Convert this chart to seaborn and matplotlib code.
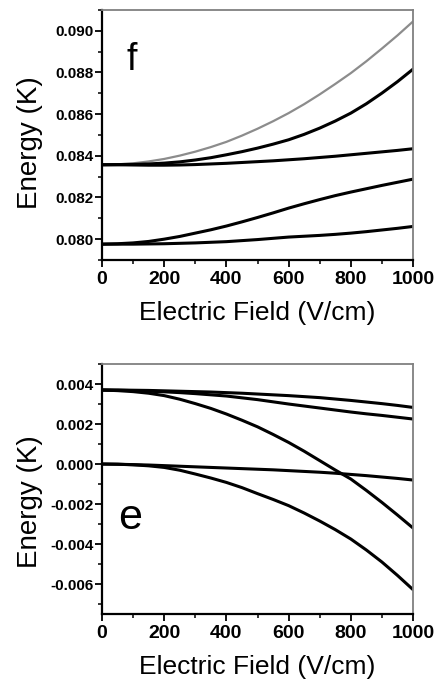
import numpy as np
import pandas as pd
import seaborn as sns
import matplotlib.pyplot as plt
from matplotlib.ticker import MultipleLocator, FormatStrFormatter

# field values (V/cm)
field = [0, 50, 100, 150, 200, 250, 300, 350, 400, 450, 500,
         550, 600, 650, 700, 750, 800, 850, 900, 950, 1000]

# panel f energies (K)
f_grey = [0.08357, 0.08359, 0.08364, 0.08373, 0.08385, 0.08401, 0.08420, 0.08442, 0.08467, 0.08497, 0.08530,
          0.08566, 0.08605, 0.08648, 0.08695, 0.08745, 0.08797, 0.08854, 0.08915, 0.08978, 0.09045]
f_up = [0.08357, 0.08358, 0.08359, 0.08361, 0.08365, 0.08371, 0.08380, 0.08391, 0.08405, 0.08420, 0.08437,
        0.08456, 0.08477, 0.08503, 0.08533, 0.08567, 0.08605, 0.08650, 0.08701, 0.08756, 0.08816]
f_mid = [0.08357, 0.08357, 0.08356, 0.08355, 0.08355, 0.08356, 0.08358, 0.08361, 0.08364, 0.08368, 0.08372,
         0.08376, 0.08381, 0.08386, 0.08392, 0.08398, 0.08405, 0.08412, 0.08419, 0.08426, 0.08434]
f_low1 = [0.07976, 0.07978, 0.07982, 0.07989, 0.08000, 0.08013, 0.08029, 0.08045, 0.08063, 0.08083, 0.08104,
          0.08126, 0.08149, 0.08170, 0.08190, 0.08209, 0.08226, 0.08242, 0.08258, 0.08273, 0.08288]
f_low2 = [0.07976, 0.07976, 0.07976, 0.07977, 0.07978, 0.07980, 0.07982, 0.07985, 0.07988, 0.07993, 0.07998,
          0.08004, 0.08010, 0.08014, 0.08018, 0.08023, 0.08029, 0.08036, 0.08044, 0.08052, 0.08061]

# panel e energies (K)
e_a = [0.00370, 0.00370, 0.00369, 0.00368, 0.00366, 0.00364, 0.00362, 0.00360, 0.00357, 0.00354, 0.00350,
       0.00346, 0.00342, 0.00337, 0.00332, 0.00325, 0.00318, 0.00310, 0.00302, 0.00293, 0.00283]
e_b = [0.00370, 0.00369, 0.00367, 0.00364, 0.00361, 0.00357, 0.00352, 0.00346, 0.00340, 0.00331, 0.00322,
       0.00311, 0.00300, 0.00290, 0.00280, 0.00270, 0.00260, 0.00251, 0.00243, 0.00234, 0.00225]
e_c = [0.00370, 0.00367, 0.00362, 0.00354, 0.00342, 0.00324, 0.00302, 0.00278, 0.00250, 0.00219, 0.00186,
       0.00148, 0.00108, 0.00064, 0.00017, -0.00030, -0.00075, -0.00132, -0.00192, -0.00255, -0.00320]
e_d = [0.00000, -0.00001, -0.00003, -0.00005, -0.00008, -0.00011, -0.00014, -0.00017, -0.00020, -0.00023, -0.00026,
       -0.00029, -0.00033, -0.00037, -0.00041, -0.00046, -0.00052, -0.00058, -0.00065, -0.00072, -0.00080]
e_e = [0.00000, -0.00001, -0.00004, -0.00009, -0.00017, -0.00031, -0.00050, -0.00070, -0.00092, -0.00118, -0.00148,
       -0.00177, -0.00208, -0.00245, -0.00285, -0.00328, -0.00375, -0.00430, -0.00490, -0.00557, -0.00628]

sns.set_style("ticks")
plt.rcParams['font.family'] = ['Liberation Sans', 'DejaVu Sans']
plt.rcParams['text.color'] = 'black'
plt.rcParams['axes.labelcolor'] = 'black'
plt.rcParams['xtick.color'] = 'black'
plt.rcParams['ytick.color'] = 'black'

fig = plt.figure(figsize=(4.35, 6.84), dpi=100)
ax_f = fig.add_axes([0.2345, 0.6199, 0.715, 0.3655])
ax_e = fig.add_axes([0.2345, 0.1023, 0.715, 0.3655])


def style_axes(ax, ylim, major, minor, label_y):
    ax.set_xlim(0, 1000)
    ax.set_ylim(*ylim)
    ax.xaxis.set_major_locator(MultipleLocator(200))
    ax.xaxis.set_minor_locator(MultipleLocator(100))
    ax.yaxis.set_major_locator(MultipleLocator(major))
    ax.yaxis.set_minor_locator(MultipleLocator(minor))
    ax.yaxis.set_major_formatter(FormatStrFormatter('%.3f'))
    ax.tick_params(which='major', direction='out', length=5, width=1.3, color='black')
    ax.tick_params(which='minor', direction='out', length=3, width=1.1, color='black')
    ax.tick_params(axis='x', labelsize=14, pad=3)
    ax.tick_params(axis='y', labelsize=11, pad=1)
    for lab in ax.get_xticklabels() + ax.get_yticklabels():
        lab.set_fontweight('bold')
    for s in ['left', 'bottom']:
        ax.spines[s].set_color('black')
        ax.spines[s].set_linewidth(1.6)
    for s in ['top', 'right']:
        ax.spines[s].set_visible(True)
        ax.spines[s].set_color('#808080')
        ax.spines[s].set_linewidth(1.3)
    ax.set_xlabel('Electric Field (V/cm)', fontsize=19, labelpad=9)
    ax.set_ylabel('Energy (K)', fontsize=20)
    ax.yaxis.set_label_coords(-0.19, label_y)


df_f = pd.DataFrame({'field': field, 'g': f_grey, 'a': f_up, 'b': f_mid, 'c': f_low1, 'd': f_low2})
sns.lineplot(data=df_f, x='field', y='g', ax=ax_f, color='#8c8c8c', lw=1.6)
for col in ['a', 'b', 'c', 'd']:
    sns.lineplot(data=df_f, x='field', y=col, ax=ax_f, color='black', lw=2.2)
style_axes(ax_f, (0.079, 0.091), 0.002, 0.001, 0.47)
ax_f.text(96, 0.0886, 'f', fontsize=27, va='center', ha='center')

df_e = pd.DataFrame({'field': field, 'a': e_a, 'b': e_b, 'c': e_c, 'd': e_d, 'e': e_e})
for col in ['a', 'b', 'c', 'd', 'e']:
    sns.lineplot(data=df_e, x='field', y=col, ax=ax_e, color='black', lw=2.2)
style_axes(ax_e, (-0.0075, 0.005), 0.002, 0.001, 0.45)
ax_e.text(90, -0.0027, 'e', fontsize=31, va='center', ha='center')

fig.savefig('out.png', dpi=100)
